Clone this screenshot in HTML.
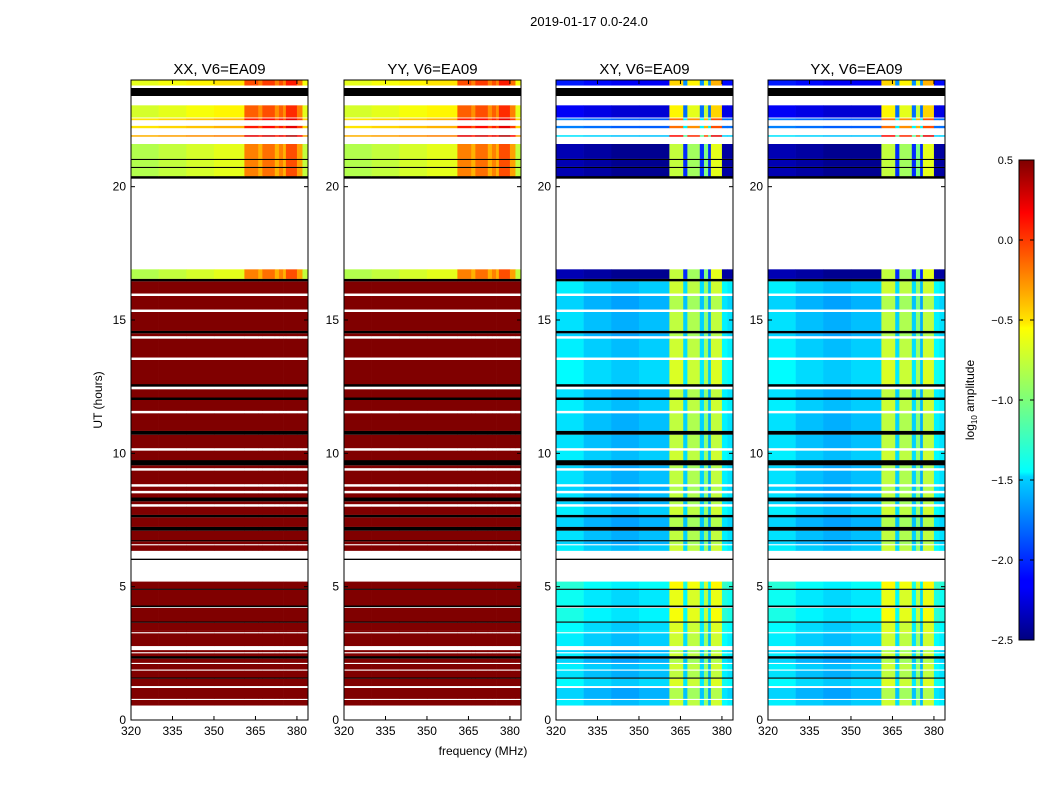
<!DOCTYPE html>
<html><head><meta charset="utf-8"><style>
body{margin:0;background:#fff;}
svg{display:block;font-family:"Liberation Sans",sans-serif;}
</style></head><body>
<svg id="fig" width="1050" height="800" viewBox="0 0 1050 800" xmlns="http://www.w3.org/2000/svg">
<defs>
<linearGradient id="jet" x1="0" y1="1" x2="0" y2="0">
<stop offset="0" stop-color="#00007f"/><stop offset="0.11" stop-color="#0000ff"/><stop offset="0.125" stop-color="#0000ff"/>
<stop offset="0.34" stop-color="#00d4ff"/><stop offset="0.35" stop-color="#0ff"/><stop offset="0.5" stop-color="#7dff7a"/>
<stop offset="0.65" stop-color="#ff0"/><stop offset="0.66" stop-color="#ffea00"/><stop offset="0.89" stop-color="#ff0000"/>
<stop offset="1" stop-color="#7f0000"/></linearGradient>
</defs>
<text x="589" y="26" font-size="13" text-anchor="middle">2019-01-17 0.0-24.0</text>
<g id="panels"></g>
<text x="483" y="755" font-size="12" text-anchor="middle">frequency (MHz)</text>
<text transform="translate(102,400) rotate(-90)" font-size="12" text-anchor="middle">UT (hours)</text>
<rect x="1019" y="160" width="15" height="480" fill="url(#jet)" stroke="#000" stroke-width="1"/>
<g id="cbticks"></g>
<text transform="translate(974,400) rotate(-90)" font-size="12" text-anchor="middle">log<tspan font-size="8" dy="3">10</tspan><tspan dy="-3"> amplitude</tspan></text>
</svg>
<script>
// ---- data ----
const panelTitles = ["XX, V6=EA09","YY, V6=EA09","XY, V6=EA09","YX, V6=EA09"];
const panelKinds = ["auto","auto","cross","cross"];
const xTicks = [320,335,350,365,380];
const yTicks = [0,5,10,15,20];
const cbTicks = [0.5,0.0,-0.5,-1.0,-1.5,-2.0,-2.5];
const freqEdges = [320,330,340,350,361,366,367.5,372,373.5,375,376,380,382,384];
const autoTopSpec = [-0.85,-0.8,-0.75,-0.7,-0.25,-0.4,-0.2,-0.4,-0.25,-0.4,-0.1,-0.35,-0.8];
const crossSpec = [-1.5,-1.6,-1.65,-1.6,-0.85,-1.55,-0.9,-1.55,-1.0,-1.65,-0.85,-1.45,-1.5];
const crossTopSpec = [-2.35,-2.4,-2.45,-2.45,-0.8,-2.0,-0.9,-2.0,-1.0,-2.0,-0.7,-2.4,-2.4];
// time segments (hours): start, end, kind ('d' main data, 't' top data, 'k' flagged black), level offset
const segStart = [0.55,0.8,1.28,1.55,1.6,1.9,2.15,2.3,2.4,2.55,2.78,3.3,3.35,3.65,3.7,4.23,4.3,4.88,4.93,6.0,6.35,6.6,6.7,6.75,7.1,7.25,7.6,7.7,8.1,8.2,8.35,8.6,8.85,9.45,9.55,9.75,10.2,10.7,10.85,11.6,12.0,12.1,12.5,12.6,13.6,14.4,14.5,14.6,15.4,16.0,16.45,16.55,20.3,20.4,20.7,20.75,21.0,21.05,21.88,22.2,22.5,22.6,23.4,23.8];
const segEnd   = [0.75,1.2,1.55,1.6,1.85,2.1,2.3,2.4,2.5,2.62,3.25,3.35,3.65,3.7,4.2,4.3,4.88,4.93,5.19,6.05,6.55,6.7,6.75,7.1,7.25,7.6,7.7,8.0,8.2,8.35,8.5,8.75,9.35,9.55,9.75,10.1,10.7,10.85,11.5,12.0,12.1,12.4,12.6,13.5,14.3,14.5,14.6,15.3,15.9,16.45,16.55,16.9,20.4,20.7,20.75,21.0,21.05,21.6,21.93,22.28,22.56,23.05,23.7,24.0];
const segKind  = ["d","d","d","k","d","d","d","k","d","d","d","d","d","k","d","k","d","k","d","k","d","d","k","d","k","d","k","d","d","k","d","d","d","d","k","d","d","k","d","d","k","d","k","d","d","d","k","d","d","d","k","t","k","t","k","t","k","t","t","t","t","t","k","t"];
const segLevel = [0.1,0,0.15,0,0.05,0.1,0,0,0.1,0,0.1,0.2,0.15,0,0.25,0,0.2,0,0.3,0,0.1,0,0,0.05,0,0,0,0.1,0,0,0.05,0,0.05,0,0,0.1,0.05,0,0.05,0.1,0,0.05,0,0.15,0.1,0,0,0.05,0,0.1,0,0,0,0,0,0,0,0,0.9,0.6,0.6,0.2,0,0.3];

// ---- helpers ----
const NS="http://www.w3.org/2000/svg";
const panelX=[131,344,556,768], PW=177, PT=80, PB=720;
function xs(p,f){return panelX[p]+(f-320)*PW/64;}
function ys(h){return PB-h*(PB-PT)/24;}
function jet(v){let t=Math.max(0,Math.min(1,(v+2.5)/3));
 const r=Math.max(0,Math.min(1,1.5-Math.abs(4*t-3))),g=Math.max(0,Math.min(1,1.5-Math.abs(4*t-2))),b=Math.max(0,Math.min(1,1.5-Math.abs(4*t-1)));
 return `rgb(${Math.round(r*255)},${Math.round(g*255)},${Math.round(b*255)})`;}
function el(tag,attrs,parent){const e=document.createElementNS(NS,tag);for(const k in attrs)e.setAttribute(k,attrs[k]);parent.appendChild(e);return e;}
const G=document.getElementById("panels");
for(let p=0;p<4;p++){
 const g=el("g",{},G);
 
 
 for(let i=0;i<segStart.length;i++){
  const y1=ys(segEnd[i]), y2=ys(segStart[i]);
  if(segKind[i]==="k"){
   const r=el("rect",{x:panelX[p],y:y1,width:PW,height:Math.max(1,y2-y1),fill:"#000"},g);
   
   
   continue;}
  for(let j=0;j<freqEdges.length-1;j++){
   let v;
   if(panelKinds[p]==="auto") v = segKind[i]==="d" ? 0.6 : autoTopSpec[j]+segLevel[i]*0.5;
   else v = segKind[i]==="d" ? crossSpec[j]+segLevel[i]*0.8 : crossTopSpec[j]+segLevel[i];
   const x1=xs(p,freqEdges[j]), x2=xs(p,freqEdges[j+1]);
   const c=el("rect",{x:x1,y:y1,width:x2-x1+0.3,height:y2-y1+0.2,fill:jet(v)},g);
   
   
  }
 }
 const fr=el("rect",{x:panelX[p],y:PT,width:PW,height:PB-PT,fill:"none",stroke:"#000","stroke-width":1},g);
 
 
 const tt=el("text",{x:panelX[p]+PW/2,y:74,"font-size":15,"text-anchor":"middle"},g);
 tt.textContent=panelTitles[p];
 
 
 xTicks.forEach(f=>{const x=xs(p,f);
  el("line",{x1:x,y1:PB,x2:x,y2:PB-4,stroke:"#000"},g);el("line",{x1:x,y1:PT,x2:x,y2:PT+4,stroke:"#000"},g);
  const t=el("text",{x:x,y:PB+15,"font-size":12,"text-anchor":"middle"},g);t.textContent=f;
  
  });
 yTicks.forEach(h=>{const y=ys(h);
  el("line",{x1:panelX[p],y1:y,x2:panelX[p]+4,y2:y,stroke:"#000"},g);el("line",{x1:panelX[p]+PW,y1:y,x2:panelX[p]+PW-4,y2:y,stroke:"#000"},g);
  const t=el("text",{x:panelX[p]-5,y:y+4,"font-size":12,"text-anchor":"end"},g);t.textContent=h;
  
  });
}
const CB=document.getElementById("cbticks");
cbTicks.forEach(v=>{const y=640-(v+2.5)/3*480;
 el("line",{x1:1019,y1:y,x2:1023,y2:y,stroke:"#000"},CB);el("line",{x1:1034,y1:y,x2:1030,y2:y,stroke:"#000"},CB);
 const t=el("text",{x:1013,y:y+4,"font-size":11,"text-anchor":"end"},CB);
 t.textContent=(v<0?"\u2212":"")+Math.abs(v).toFixed(1);
 
 });
</script>
</body></html>
